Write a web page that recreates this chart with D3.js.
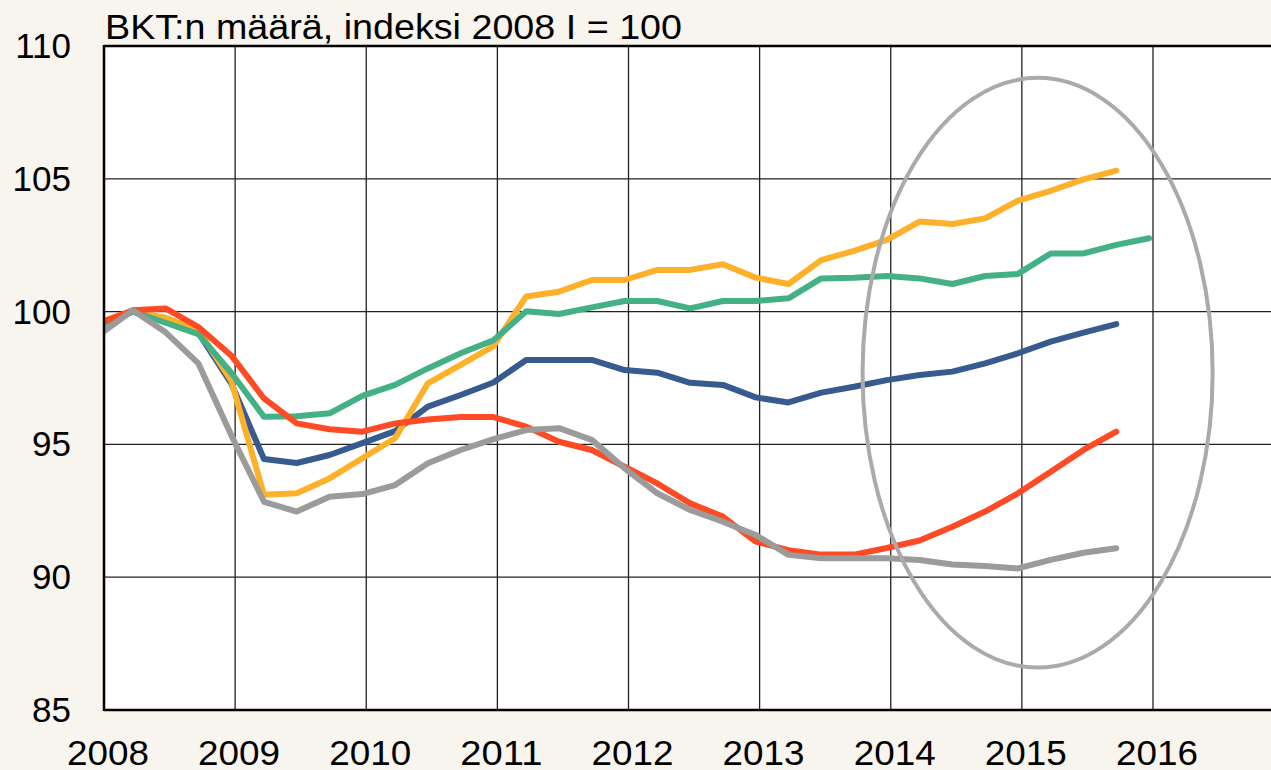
<!DOCTYPE html>
<html>
<head>
<meta charset="utf-8">
<script src="https://cdn.jsdelivr.net/npm/d3@7"></script>
<style>
  html, body { margin: 0; padding: 0; background: #f8f4ee; }
  svg { display: block; }
  text { font-family: "Liberation Sans", Arial, sans-serif; fill: #000; }
</style>
</head>
<body>
<svg id="plotCanvas"></svg>
<script>
var canvasWidth = 1271;
var canvasHeight = 770;

// quarters 2007 IV ... 2015 IV
var quarters = [];
for (var y = 2007; y <= 2015; y++)
    for (var q = 1; q <= 4; q++)
        if (!(y == 2007 && q < 4)) quarters.push({year: y, q: q});

var blueValues = [99.5, 100, 99.7, 99.2, 97.3, 94.45, 94.3, 94.6, 95.05, 95.5,
    96.42, 96.86, 97.33, 98.18, 98.18, 98.18, 97.8, 97.7, 97.32, 97.24,
    96.77, 96.58, 96.95, 97.17, 97.42, 97.61, 97.74, 98.05, 98.43, 98.87,
    99.21, 99.53];
var greenValues = [99.5, 100, 99.58, 99.15, 97.7, 96.04, 96.06, 96.17, 96.83, 97.24,
    97.86, 98.43, 98.92, 100.01, 99.91, 100.16, 100.4, 100.4, 100.12, 100.4,
    100.4, 100.5, 101.25, 101.27, 101.34, 101.25, 101.04, 101.34, 101.42, 102.19,
    102.19, 102.51, 102.76];
var yellowValues = [99.6, 100, 99.77, 99.3, 97.4, 93.1, 93.16, 93.72, 94.48, 95.23,
    97.3, 97.99, 98.7, 100.57, 100.75, 101.19, 101.19, 101.57, 101.57, 101.78,
    101.28, 101.04, 101.94, 102.29, 102.7, 103.39, 103.3, 103.51, 104.18, 104.55,
    104.98, 105.31];
var redValues = [99.58, 100.05, 100.12, 99.42, 98.35, 96.73, 95.79, 95.57, 95.48, 95.79,
    95.94, 96.03, 96.03, 95.67, 95.1, 94.79, 94.16, 93.53, 92.78, 92.28,
    91.34, 91.02, 90.85, 90.85, 91.1, 91.38, 91.9, 92.47, 93.16, 93.97,
    94.79, 95.48];
var grayValues = [99.15, 100.05, 99.22, 98.05, 95.35, 92.84, 92.47, 93.03, 93.13, 93.47,
    94.29, 94.79, 95.2, 95.54, 95.61, 95.17, 94.1, 93.16, 92.53, 92.09,
    91.59, 90.84, 90.71, 90.71, 90.71, 90.65, 90.48, 90.42, 90.33, 90.65,
    90.92, 91.09];

var yearTicks = [2008, 2009, 2010, 2011, 2012, 2013, 2014, 2015, 2016];
var valueTicks = [85, 90, 95, 100, 105, 110];
var titleText = "BKT:n määrä, indeksi 2008 I = 100";

// drawing order: bottom first
var series = [
    {name: "blue", values: blueValues, color: "#385b8f"},
    {name: "yellow", values: yellowValues, color: "#fdb12a"},
    {name: "green", values: greenValues, color: "#43b185"},
    {name: "red", values: redValues, color: "#ff4a26"},
    {name: "gray", values: grayValues, color: "#9b9b9b"}
];

var plotLeft = 104, plotTop = 46, plotBottom = 710, plotRight = canvasWidth;

var x = d3.scaleLinear().domain([2008, 2016.9]).range([plotLeft, plotRight]);
var yScale = d3.scaleLinear().domain([85, 110]).range([plotBottom, plotTop]);

// points sit near quarter end
function quarterPos(d) { return d.year + d.q / 4 - 0.03; }

var canvas = d3.select("#plotCanvas")
    .attr("width", canvasWidth)
    .attr("height", canvasHeight);

canvas.append("defs").append("clipPath").attr("id", "plotClip")
    .append("rect")
    .attr("x", plotLeft).attr("y", plotTop)
    .attr("width", plotRight - plotLeft).attr("height", plotBottom - plotTop);

canvas.append("rect")
    .attr("x", plotLeft).attr("y", plotTop)
    .attr("width", plotRight - plotLeft).attr("height", plotBottom - plotTop)
    .attr("fill", "#ffffff");

// grid
canvas.append("g").selectAll("line")
    .data(yearTicks.slice(1))
    .enter().append("line")
    .attr("x1", function(d) { return x(d); })
    .attr("x2", function(d) { return x(d); })
    .attr("y1", plotTop).attr("y2", plotBottom)
    .attr("stroke", "#222").attr("stroke-width", 1.3);

canvas.append("g").selectAll("line")
    .data(valueTicks.slice(1, -1))
    .enter().append("line")
    .attr("x1", plotLeft).attr("x2", plotRight)
    .attr("y1", function(d) { return yScale(d); })
    .attr("y2", function(d) { return yScale(d); })
    .attr("stroke", "#222").attr("stroke-width", 1.3);

// lines
var line = d3.line()
    .x(function(d, i) { return x(quarterPos(quarters[i])); })
    .y(function(d) { return yScale(d); });

canvas.append("g").attr("clip-path", "url(#plotClip)")
    .selectAll("path")
    .data(series)
    .enter().append("path")
    .attr("d", function(s) { return line(s.values); })
    .attr("fill", "none")
    .attr("stroke", function(s) { return s.color; })
    .attr("stroke-width", 6)
    .attr("stroke-linejoin", "round")
    .attr("stroke-linecap", "round");

// highlight ellipse around 2014-2015
var ellipseCenter = {year: 2015.12, value: 97.7};
var ellipseSize = {years: 1.335, values: 11.1};
canvas.append("ellipse")
    .attr("cx", x(ellipseCenter.year))
    .attr("cy", yScale(ellipseCenter.value))
    .attr("rx", x(2008 + ellipseSize.years) - x(2008))
    .attr("ry", yScale(85) - yScale(85 + ellipseSize.values))
    .attr("fill", "none")
    .attr("stroke", "#aaaaaa")
    .attr("stroke-width", 4);

// frame
canvas.append("line")
    .attr("x1", plotLeft).attr("x2", plotLeft)
    .attr("y1", plotTop - 1).attr("y2", plotBottom + 1)
    .attr("stroke", "#000").attr("stroke-width", 2.5);
canvas.append("line")
    .attr("x1", plotLeft).attr("x2", plotRight)
    .attr("y1", plotTop).attr("y2", plotTop)
    .attr("stroke", "#000").attr("stroke-width", 2.5);
canvas.append("line")
    .attr("x1", plotLeft).attr("x2", plotRight)
    .attr("y1", plotBottom).attr("y2", plotBottom)
    .attr("stroke", "#000").attr("stroke-width", 2.5);

// axis labels
canvas.append("g").selectAll("text")
    .data(valueTicks)
    .enter().append("text")
    .attr("x", 71)
    .attr("y", function(d) { return yScale(d); })
    .attr("dy", "0.34em")
    .attr("text-anchor", "end")
    .attr("font-size", "35px")
    .text(function(d) { return d; });

canvas.append("g").selectAll("text")
    .data(yearTicks)
    .enter().append("text")
    .attr("x", function(d) { return x(d) + 4; })
    .attr("y", 765)
    .attr("text-anchor", "middle")
    .attr("font-size", "35px")
    .attr("textLength", 82)
    .attr("lengthAdjust", "spacingAndGlyphs")
    .text(function(d) { return d; });

canvas.append("text")
    .attr("x", plotLeft + 1)
    .attr("y", 39)
    .attr("font-size", "35px")
    .attr("textLength", 577)
    .attr("lengthAdjust", "spacingAndGlyphs")
    .text(titleText);
</script>
</body>
</html>
